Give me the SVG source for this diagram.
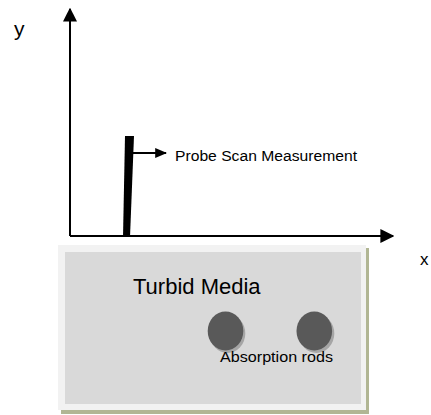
<svg xmlns="http://www.w3.org/2000/svg" width="431" height="415" viewBox="0 0 431 415">
<style>
  .t { font-family: "Liberation Sans", Arial, sans-serif; fill: #000; }
  .axis { stroke: #000; stroke-width: 2; fill: none; }
  .rod { fill: #595959; }
  .rodshadow { fill: #a6a6a6; }
</style>
<defs>
  <marker id="axhead" viewBox="0 0 10 10" refX="9" refY="5" markerWidth="14" markerHeight="14" markerUnits="userSpaceOnUse" orient="auto" preserveAspectRatio="none">
    <path d="M0,0 L10,5 L0,10 Z" fill="#000"/>
  </marker>
  <marker id="phead" viewBox="0 0 10 10" refX="9" refY="5" markerWidth="12" markerHeight="10" markerUnits="userSpaceOnUse" orient="auto" preserveAspectRatio="none">
    <path d="M0,0 L10,5 L0,10 Z" fill="#000"/>
  </marker>
</defs>
<rect width="431" height="415" fill="#fff"/>

<g id="turbid-media">
  <rect x="61" y="248" width="308" height="166" fill="#b1b694"/>
  <rect x="58" y="245" width="308" height="165" fill="#f2f2f2"/>
  <rect x="65" y="252" width="296" height="152" fill="#d9d9d9"/>
  <text class="t" x="133" y="294" font-size="22">Turbid Media</text>
</g>

<g id="absorption-rods">
  <ellipse class="rodshadow" cx="227.5" cy="333.5" rx="17.8" ry="19.5"/>
  <ellipse class="rod" cx="225.5" cy="331" rx="17.8" ry="19.5"/>
  <ellipse class="rodshadow" cx="316.5" cy="333.5" rx="17.8" ry="19.5"/>
  <ellipse class="rod" cx="314.3" cy="331" rx="17.8" ry="19.5"/>
  <text class="t" x="220" y="362" font-size="14.5" textLength="113" lengthAdjust="spacingAndGlyphs">Absorption rods</text>
</g>

<g id="axes">
  <line class="axis" x1="70" y1="236" x2="70" y2="9" marker-end="url(#axhead)"/>
  <line class="axis" x1="70" y1="236" x2="393" y2="236" marker-end="url(#axhead)"/>
  <text class="t" x="14" y="36" font-size="21">y</text>
  <text class="t" x="420" y="265" font-size="17">x</text>
</g>

<g id="probe">
  <polygon points="125,136 134,136 130,237 123,237" fill="#000"/>
  <text class="t" x="175" y="161" font-size="15.5" textLength="182" lengthAdjust="spacingAndGlyphs">Probe Scan Measurement</text>
</g>

<g id="connectors">
  <line x1="133" y1="153" x2="166" y2="153" stroke="#000" stroke-width="2" marker-end="url(#phead)"/>
</g>
</svg>
